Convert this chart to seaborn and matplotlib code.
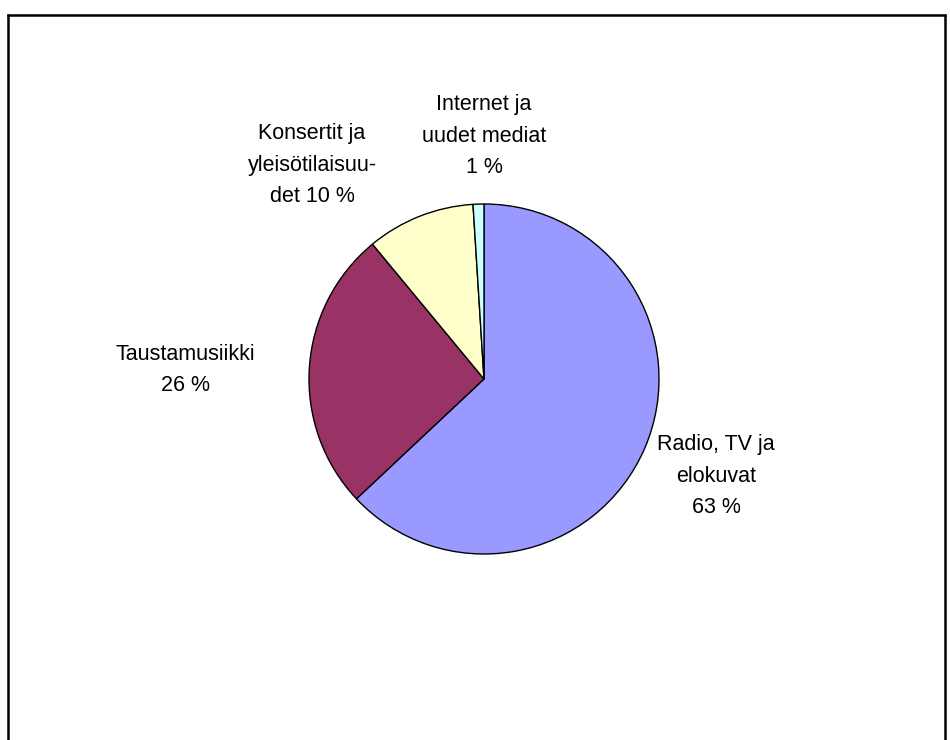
import matplotlib
matplotlib.use("Agg")
import matplotlib.pyplot as plt
import seaborn as sns
from matplotlib.lines import Line2D

categories = ["Radio, TV ja\nelokuvat", "Taustamusiikki", "Konsertit ja\nyleisötilaisuu-\ndet", "Internet ja\nuudet mediat"]
values = [63, 26, 10, 1]
colors = ["#9999FF", "#993366", "#FFFFCC", "#CCFFFF"]

sns.set_theme(style="white")
plt.rcParams['font.family'] = ['Liberation Sans', 'DejaVu Sans']

W, H = 950, 740
fig = plt.figure(figsize=(W / 100, H / 100), dpi=100)
fig.patch.set_facecolor("white")

cx, cy, R = 484, 379, 175
ax = fig.add_axes([(cx - R) / W, (H - cy - R) / H, 2 * R / W, 2 * R / H])
wedges, _ = ax.pie(values, colors=colors, startangle=90, counterclock=False,
                   wedgeprops=dict(edgecolor="black", linewidth=1.0), radius=1.0)
ax.set_xlim(-1, 1)
ax.set_ylim(-1, 1)
ax.set_aspect("equal")
ax.axis("off")

# label centres in pixels (layout)
label_px = [(716, 476), (185, 370), (312, 165), (484, 136)]
sep = ["\n", "\n", " ", "\n"]
for lab, v, (px, py), s in zip(categories, values, label_px, sep):
    txt = f"{lab}{s}{v} %"
    ax.text((px - cx) / R, (cy - py) / R, txt, ha="center", va="center",
            fontsize=15.5, linespacing=1.68, color="black", clip_on=False)

# outer frame (no bottom edge visible)
lw = 1.8
fig.add_artist(Line2D([7.5 / W, 7.5 / W], [0, 1 - 14.5 / H], transform=fig.transFigure, color="black", lw=lw))
fig.add_artist(Line2D([7.5 / W, 944.5 / W], [1 - 14.5 / H, 1 - 14.5 / H], transform=fig.transFigure, color="black", lw=lw, solid_capstyle="projecting"))
fig.add_artist(Line2D([944.5 / W, 944.5 / W], [0, 1 - 14.5 / H], transform=fig.transFigure, color="black", lw=lw))

fig.savefig("out.png", dpi=100, facecolor="white")
